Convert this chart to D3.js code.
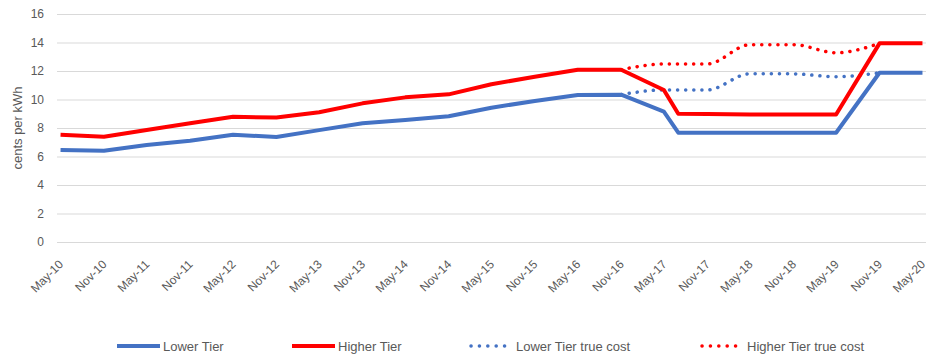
<!DOCTYPE html>
<html>
<head>
<meta charset="utf-8">
<script src="https://cdn.jsdelivr.net/npm/d3@7"></script>
<style>
  html, body { margin: 0; padding: 0; background: #fff; }
  svg { display: block; }
  text { font-family: "Liberation Sans", Arial, sans-serif; fill: #595959; }
</style>
</head>
<body>
<svg id="chart" width="942" height="364"></svg>
<script>
// ---- data ----
const solidDates = ["2010-05","2010-11","2011-05","2011-11","2012-05","2012-11","2013-05","2013-11","2014-05","2014-11","2015-05","2015-11","2016-05","2016-11","2017-05","2017-07","2017-11","2018-05","2018-11","2019-05","2019-11","2020-05"];
const lowerTier  = [6.46,6.41,6.81,7.11,7.53,7.37,7.85,8.33,8.56,8.82,9.42,9.90,10.32,10.34,9.15,7.67,7.67,7.67,7.67,7.67,11.88,11.88];
const higherTier = [7.53,7.39,7.86,8.33,8.79,8.73,9.10,9.73,10.15,10.36,11.07,11.60,12.09,12.09,10.67,9.00,8.98,8.95,8.95,8.95,13.94,13.94];
const trueDates = ["2016-11","2017-05","2017-11","2018-05","2018-11","2019-05","2019-11"];
const lowerTrue  = [10.34,10.67,10.67,11.81,11.80,11.60,11.88];
const higherTrue = [12.09,12.49,12.49,13.85,13.85,13.28,13.94];
const xTickLabels = ["May-10","Nov-10","May-11","Nov-11","May-12","Nov-12","May-13","Nov-13","May-14","Nov-14","May-15","Nov-15","May-16","Nov-16","May-17","Nov-17","May-18","Nov-18","May-19","Nov-19","May-20"];
const yTicks = [0,2,4,6,8,10,12,14,16];
const seriesNames = ["Lower Tier","Higher Tier","Lower Tier true cost","Higher Tier true cost"];
const seriesColors = ["#4472C4","#FF0000","#4472C4","#FF0000"];

(function () {
// ---- layout ----
const parse = d3.timeParse("%Y-%m");
const fmt = d3.timeFormat("%b-%y");
const svg = d3.select("#chart");
const mLeft = 57, mRight = 926, mTop = 14, mBottom = 242;

const d0 = parse("2010-05"), d1 = parse("2020-05");
const x = d3.scaleTime()
  .domain([d3.timeDay.offset(d0, -15), d3.timeDay.offset(d1, 15)])
  .range([mLeft, mRight]);
const y = d3.scaleLinear().domain([0, 16]).range([mBottom, mTop]);

// gridlines + y labels
const yAxis = d3.axisLeft(y).tickValues(yTicks).tickSize(-(mRight - mLeft)).tickPadding(13).tickFormat(d3.format("d"));
const gy = svg.append("g").attr("transform", `translate(${mLeft},0)`).call(yAxis);
gy.attr("font-family", null).attr("font-size", null);
gy.select(".domain").remove();
gy.selectAll(".tick line").attr("stroke", "#d9d9d9").attr("stroke-width", 1);
gy.selectAll(".tick text").style("font-size", "12px").style("fill", "#595959");

// x axis labels
const xDates = xTickLabels.map(s => d3.timeParse("%b-%y")(s));
const xAxis = d3.axisBottom(x).tickValues(xDates).tickFormat(fmt).tickSize(0);
const gx = svg.append("g").attr("transform", `translate(0,${mBottom})`).call(xAxis);
gx.attr("font-family", null).attr("font-size", null);
gx.select(".domain").remove();
gx.selectAll(".tick text")
  .attr("y", 0).attr("dy", null)
  .attr("text-anchor", "end")
  .attr("transform", "translate(3,23) rotate(-45)")
  .style("font-size", "12px").style("fill", "#595959");

// y title
svg.append("text")
  .attr("transform", "translate(22,128) rotate(-90)")
  .attr("text-anchor", "middle")
  .style("font-size", "13px")
  .text("cents per kWh");

// lines
const mk = (dates, vals) => dates.map((d, i) => ({ date: parse(d), v: vals[i] }));
const lineSolid = d3.line().x(d => x(d.date)).y(d => y(d.v));
const lineSmooth = d3.line().x(d => x(d.date)).y(d => y(d.v)).curve(d3.curveMonotoneX);

const series = [
  { data: mk(solidDates, lowerTier), gen: lineSolid, dotted: false },
  { data: mk(solidDates, higherTier), gen: lineSolid, dotted: false },
  { data: mk(trueDates, lowerTrue), gen: lineSmooth, dotted: true },
  { data: mk(trueDates, higherTrue), gen: lineSmooth, dotted: true }
];
const drawOrder = [2, 3, 0, 1];
drawOrder.forEach(i => {
  const s = series[i];
  const p = svg.append("path")
    .attr("d", s.gen(s.data))
    .attr("fill", "none")
    .attr("stroke", seriesColors[i])
    .attr("stroke-linejoin", "round");
  if (s.dotted) {
    p.attr("stroke-width", 3.5).attr("stroke-dasharray", "0.1 8").attr("stroke-linecap", "round");
  } else {
    p.attr("stroke-width", 4).attr("stroke-linecap", "butt");
  }
});

// legend
const legendX = [117, 292, 470, 701];
const legendY = 346;
seriesNames.forEach((name, i) => {
  const g = svg.append("g").attr("transform", `translate(${legendX[i]},${legendY})`);
  const dotted = i >= 2;
  g.append("line")
    .attr("x1", dotted ? 1 : 0).attr("x2", dotted ? 42.5 : 43)
    .attr("y1", 0).attr("y2", 0)
    .attr("stroke", seriesColors[i])
    .attr("stroke-width", dotted ? 3.5 : 4)
    .attr("stroke-linecap", dotted ? "round" : "butt")
    .attr("stroke-dasharray", dotted ? "0.1 8.28" : null);
  g.append("text")
    .attr("x", 46)
    .attr("y", 0).attr("dy", "0.35em")
    .style("font-size", "13px")
    .text(name);
});
})();
</script>
</body>
</html>
